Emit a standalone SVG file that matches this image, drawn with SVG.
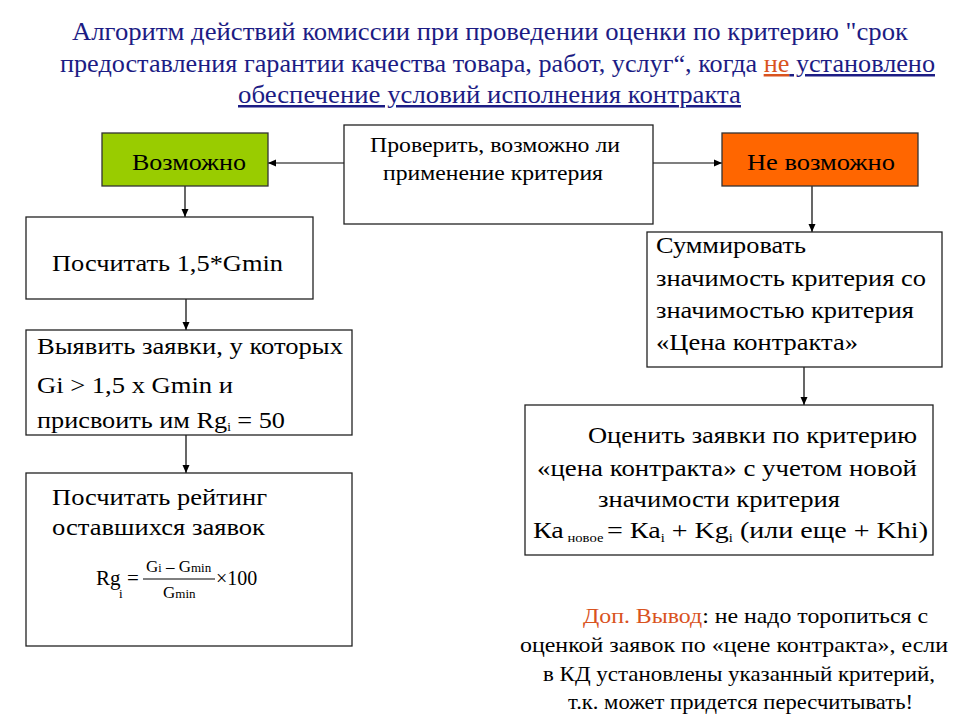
<svg xmlns="http://www.w3.org/2000/svg" width="960" height="720" viewBox="0 0 960 720" font-family="'Liberation Serif', 'DejaVu Serif', serif">
<style>
.t{font-family:'Liberation Serif','Tinos','Times New Roman','Noto Serif','DejaVu Serif','FreeSerif','PT Serif',serif;fill:#000}
.ti{font-family:'Liberation Serif','Tinos','Times New Roman','Noto Serif','DejaVu Serif','FreeSerif','PT Serif',serif;fill:#1c1c84;font-size:25px}
.box{fill:#fff;stroke:#222;stroke-width:1.3}
.red{fill:#d9531e}
.c{stroke:#000;stroke-width:1.2;fill:none;marker-end:url(#ah)}
</style>
<defs>
<marker id="ah" markerWidth="9" markerHeight="8" refX="8" refY="4" orient="auto" markerUnits="userSpaceOnUse">
<path d="M0,0.5 L8,4 L0,7.5 z" fill="#000"/>
</marker>
</defs>
<rect width="960" height="720" fill="#fff"/>
<g id="title">
<text class="ti" x="72" y="40" textLength="836" lengthAdjust="spacingAndGlyphs">Алгоритм действий комиссии при проведении оценки по критерию "срок</text>
<text class="ti" x="60" y="72" textLength="875" lengthAdjust="spacingAndGlyphs">предоставления гарантии качества товара, работ, услуг“, когда <tspan class="red" text-decoration="underline">не</tspan><tspan text-decoration="underline"> установлено</tspan></text>
<text class="ti" x="238" y="103" textLength="503" lengthAdjust="spacingAndGlyphs" text-decoration="underline">обеспечение условий исполнения контракта</text>
</g>
<g id="connectors">
<line class="c" x1="344" y1="163" x2="268" y2="163"/>
<line class="c" x1="653" y1="163" x2="722" y2="163"/>
<line class="c" x1="185" y1="186" x2="185" y2="217"/>
<line class="c" x1="186" y1="299" x2="186" y2="330"/>
<line class="c" x1="186" y1="435" x2="186" y2="473"/>
<line class="c" x1="812" y1="186" x2="812" y2="232"/>
<line class="c" x1="804" y1="367" x2="804" y2="405"/>
</g>
<g id="check">
<rect class="box" x="344" y="125" width="309" height="99"/>
<text class="t" font-size="21" x="370" y="152" textLength="250" lengthAdjust="spacingAndGlyphs">Проверить, возможно ли</text>
<text class="t" font-size="21" x="383" y="180" textLength="220" lengthAdjust="spacingAndGlyphs">применение критерия</text>
</g>
<g id="possible">
<rect x="102" y="133" width="166" height="53" fill="#99cc00" stroke="#333" stroke-width="1.3"/>
<text class="t" font-size="24" x="132" y="170" fill="#102008" textLength="114" lengthAdjust="spacingAndGlyphs">Возможно</text>
</g>
<g id="impossible">
<rect x="722" y="133" width="196" height="53" fill="#ff6600" stroke="#333" stroke-width="1.3"/>
<text class="t" font-size="24" x="747" y="170" fill="#2a0d00" textLength="148" lengthAdjust="spacingAndGlyphs">Не возможно</text>
</g>
<g id="calc15">
<rect class="box" x="26" y="217" width="287" height="82"/>
<text class="t" font-size="23" x="52" y="271" textLength="231" lengthAdjust="spacingAndGlyphs">Посчитать 1,5*Gmin</text>
</g>
<g id="identify">
<rect class="box" x="26" y="330" width="326" height="105"/>
<text class="t" font-size="24" x="37" y="354" textLength="306" lengthAdjust="spacingAndGlyphs">Выявить заявки, у которых</text>
<text class="t" font-size="24" x="37" y="393" textLength="196" lengthAdjust="spacingAndGlyphs">Gi &gt; 1,5 x Gmin и</text>
<text class="t" font-size="24" x="37" y="428" textLength="248" lengthAdjust="spacingAndGlyphs">присвоить им Rg<tspan font-size="12" dy="3">i</tspan><tspan dy="-3"> = 50</tspan></text>
</g>
<g id="rating">
<rect class="box" x="26" y="473" width="326" height="173"/>
<text class="t" font-size="24" x="52" y="505" textLength="215" lengthAdjust="spacingAndGlyphs">Посчитать рейтинг</text>
<text class="t" font-size="24" x="52" y="535" textLength="213" lengthAdjust="spacingAndGlyphs">оставшихся заявок</text>
<text class="t" font-size="21" x="96" y="585">Rg</text>
<text class="t" font-size="13" x="119" y="598">i</text>
<text class="t" font-size="21" x="127" y="585">=</text>
<line x1="143" y1="579" x2="215" y2="579" stroke="#000" stroke-width="1"/>
<text class="t" font-size="17" x="146" y="572">G<tspan font-size="12">i</tspan> – G<tspan font-size="13">min</tspan></text>
<text class="t" font-size="17" x="163" y="598">G<tspan font-size="13">min</tspan></text>
<text class="t" font-size="20" x="216" y="585">×100</text>
</g>
<g id="sum">
<rect class="box" x="647" y="232" width="295" height="135"/>
<text class="t" font-size="23" x="656" y="253" textLength="150" lengthAdjust="spacingAndGlyphs">Суммировать</text>
<text class="t" font-size="23" x="656" y="286" textLength="270" lengthAdjust="spacingAndGlyphs">значимость критерия со</text>
<text class="t" font-size="23" x="656" y="318" textLength="258" lengthAdjust="spacingAndGlyphs">значимостью критерия</text>
<text class="t" font-size="23" x="656" y="350" textLength="202" lengthAdjust="spacingAndGlyphs">«Цена контракта»</text>
</g>
<g id="evaluate">
<rect class="box" x="525" y="405" width="408" height="150"/>
<text class="t" font-size="23" x="588" y="443" textLength="329" lengthAdjust="spacingAndGlyphs">Оценить заявки по критерию</text>
<text class="t" font-size="23" x="537" y="476" textLength="380" lengthAdjust="spacingAndGlyphs">«цена контракта» с учетом новой</text>
<text class="t" font-size="23" x="598" y="507" textLength="242" lengthAdjust="spacingAndGlyphs">значимости критерия</text>
<text class="t" font-size="23" x="533" y="538" textLength="395" lengthAdjust="spacingAndGlyphs">Ка<tspan font-size="12" dy="4"> новое </tspan><tspan dy="-4">= Ка</tspan><tspan font-size="12" dy="4">i</tspan><tspan dy="-4"> + Kg</tspan><tspan font-size="12" dy="4">i</tspan><tspan dy="-4"> (или еще + Khi)</tspan></text>
</g>
<g id="note">
<text class="t" font-size="22" x="583" y="623" textLength="345" lengthAdjust="spacingAndGlyphs"><tspan class="red">Доп. Вывод</tspan>: не надо торопиться с</text>
<text class="t" font-size="22" x="520" y="652" textLength="428" lengthAdjust="spacingAndGlyphs">оценкой заявок по «цене контракта», если</text>
<text class="t" font-size="22" x="543" y="681" textLength="392" lengthAdjust="spacingAndGlyphs">в КД установлены указанный критерий,</text>
<text class="t" font-size="22" x="568" y="709" textLength="345" lengthAdjust="spacingAndGlyphs">т.к. может придется пересчитывать!</text>
</g>
</svg>
